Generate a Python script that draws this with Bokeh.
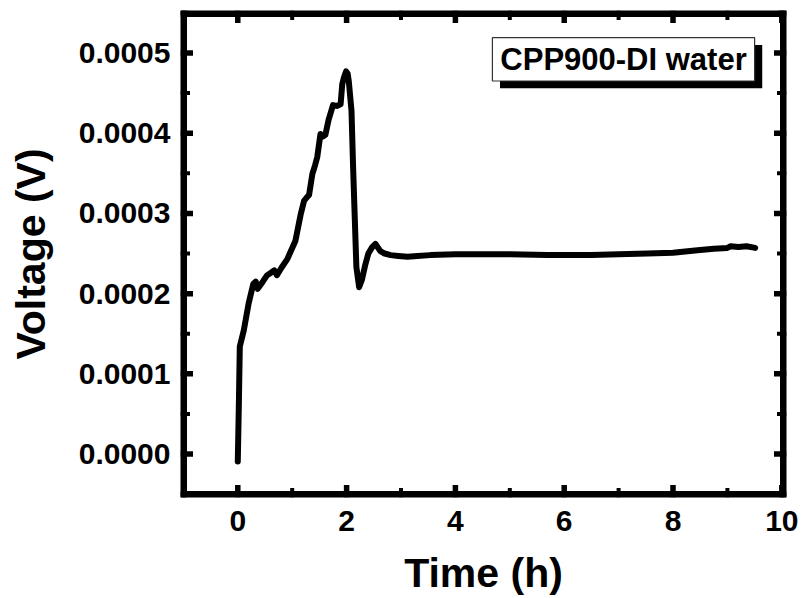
from bokeh.plotting import figure
from bokeh.models import (Range1d, FixedTicker, PrintfTickFormatter, BoxAnnotation, Label)
from bokeh.embed import file_html
from bokeh.resources import INLINE

# ---- data ----
time_h = [0.0, 0.02, 0.037, 0.11, 0.20, 0.285, 0.33, 0.365, 0.45, 0.54, 0.61, 0.67, 0.72, 0.80,
          0.91, 1.06, 1.16, 1.22, 1.27, 1.31, 1.37, 1.42, 1.46, 1.52, 1.57, 1.61, 1.67, 1.72,
          1.75, 1.82, 1.89, 1.92, 1.95, 1.99, 2.02, 2.04, 2.09, 2.12, 2.15, 2.18, 2.23, 2.28,
          2.34, 2.40, 2.47, 2.53, 2.62, 2.70, 2.81, 2.95, 3.12, 3.30, 3.54, 4.0, 4.5, 5.0,
          5.69, 6.0, 6.5, 7.0, 7.53, 8.0, 8.45, 8.75, 9.0, 9.06, 9.2, 9.35, 9.51]
voltage_v = [-0.0000092, 0.0000634, 0.000134, 0.000154, 0.000188, 0.000212, 0.000215, 0.000206,
             0.000214, 0.000223, 0.000226, 0.000229, 0.000223, 0.000232, 0.000243, 0.000266,
             0.000300, 0.000316, 0.000320, 0.000323, 0.000349, 0.000360, 0.000370, 0.000399,
             0.000396, 0.000398, 0.000417, 0.000428, 0.000435, 0.000434, 0.000436, 0.000461,
             0.000469, 0.000477, 0.000474, 0.000465, 0.000428, 0.000357, 0.000295, 0.000233,
             0.000208, 0.000217, 0.000235, 0.000250, 0.000258, 0.000262, 0.000253, 0.000250,
             0.000248, 0.000247, 0.000246, 0.000247, 0.000248, 0.000249, 0.000249, 0.000249,
             0.000248, 0.000248, 0.000248, 0.000249, 0.000250, 0.000251, 0.000254, 0.000256,
             0.000257, 0.000259, 0.000258, 0.000259, 0.000257]
x_major_ticks = [0.0, 2.0, 4.0, 6.0, 8.0, 10.0]
x_minor_ticks = [-1.0, 1.0, 3.0, 5.0, 7.0, 9.0]
y_major_ticks = [0.0, 0.0001, 0.0002, 0.0003, 0.0004, 0.0005]
y_minor_ticks = [-0.00005, 0.00005, 0.00015, 0.00025, 0.00035, 0.00045, 0.00055]
x_label = "Time (h)"
y_label = "Voltage (V)"
legend_text = "CPP900-DI water"

FONT = "Liberation Sans"
X0, X1 = -1.053, 10.086
Y0, Y1 = -0.0000541, 0.0005529
PX_PER_X = 54.4
PX_PER_Y = 80.4e4

p = figure(width=802, height=598,
           x_range=Range1d(X0, X1), y_range=Range1d(Y0, Y1),
           output_backend="svg", toolbar_location=None,
           min_border_left=180, min_border_right=16, min_border_top=10, min_border_bottom=100,
           background_fill_color="white", border_fill_color="white")

p.xgrid.grid_line_color = None
p.ygrid.grid_line_color = None
p.outline_line_color = None

xa = p.xaxis[0]
ya = p.yaxis[0]
xa.ticker = FixedTicker(ticks=x_major_ticks)
ya.ticker = FixedTicker(ticks=y_major_ticks)
ya.formatter = PrintfTickFormatter(format="%.4f")
for ax in (xa, ya):
    ax.axis_line_color = None
    ax.major_tick_in = 0
    ax.major_tick_out = 0
    ax.minor_tick_in = 0
    ax.minor_tick_out = 0
    ax.major_tick_line_color = None
    ax.minor_tick_line_color = None
    ax.major_label_text_font = FONT
    ax.major_label_text_font_style = "bold"
    ax.major_label_text_font_size = "30px"
    ax.major_label_text_color = "black"
    ax.axis_label_text_font = FONT
    ax.axis_label_text_font_style = "bold"
    ax.axis_label_text_font_size = "41px"
    ax.axis_label_text_color = "black"
xa.axis_label = x_label
ya.axis_label = y_label
xa.major_label_standoff = 13
xa.axis_label_standoff = 16
ya.major_label_standoff = 10
ya.axis_label_standoff = 22

# inward ticks on all four sides (lengths in pixels from the frame edge, converted to data units)
MAJ, MIN = 12.5, 9.5
tx0, ty0, tx1, ty1, tw = [], [], [], [], []
for xs, ln, w in ((x_major_ticks, MAJ, 5.5), (x_minor_ticks, MIN, 4)):
    d = ln / PX_PER_Y
    for xv in xs:
        tx0 += [xv, xv]; tx1 += [xv, xv]
        ty0 += [Y0, Y1]; ty1 += [Y0 + d, Y1 - d]
        tw += [w, w]
for ys, ln, w in ((y_major_ticks, MAJ, 5.5), (y_minor_ticks, MIN, 4)):
    d = ln / PX_PER_X
    for yv in ys:
        tx0 += [X0, X1]; tx1 += [X0 + d, X1 - d]
        ty0 += [yv, yv]; ty1 += [yv, yv]
        tw += [w, w]
p.segment(x0=tx0, y0=ty0, x1=tx1, y1=ty1, line_color="black", line_width=tw)

p.line(time_h, voltage_v, line_color="black", line_width=6, line_join="round", line_cap="round")

# frame (drawn on the frame edges; outer half is clipped)
p.segment(x0=[X0, X1, X0, X0], y0=[Y0, Y0, Y0, Y1], x1=[X0, X1, X1, X1], y1=[Y1, Y1, Y0, Y1],
          line_color="black", line_width=13)

# legend box with shadow
p.add_layout(BoxAnnotation(left=4.82, right=9.64, top=0.000510, bottom=0.000456,
                           fill_color="black", fill_alpha=1, line_color=None))
p.add_layout(BoxAnnotation(left=4.68, right=9.50, top=0.000519, bottom=0.000465,
                           fill_color="white", fill_alpha=1, line_color="#333333", line_width=1.2,
                           line_alpha=1))
p.add_layout(Label(x=7.09, y=0.000492, text=legend_text, text_align="center",
                   text_baseline="middle", text_font=FONT, text_font_style="bold",
                   text_font_size="31px", text_color="black"))

open("out.html", "w").write(file_html(p, INLINE))
